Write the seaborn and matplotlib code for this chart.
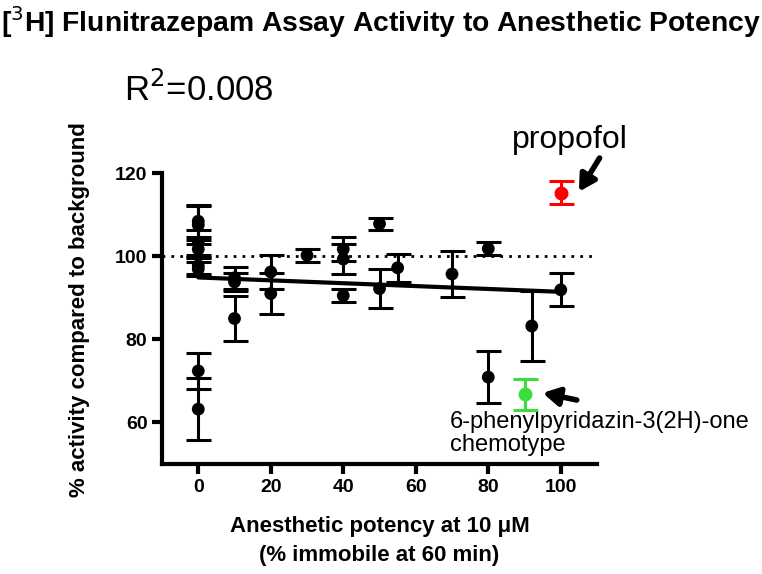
import numpy as np
import pandas as pd
import seaborn as sns
import matplotlib.pyplot as plt

# black compounds: potency (% immobile), activity (%), error (SEM)
potency = [0, 0, 0, 0, 0, 0, 0, 0, 10, 10, 10, 20, 20, 30, 40, 40, 40, 50, 50, 55, 70, 80, 80, 92, 100]
activity = [108.4, 107.5, 103.3, 101.7, 97.7, 96.9, 72.4, 63.2, 94.8, 93.8, 85.0, 96.2, 91.0, 100.2,
            101.7, 99.3, 90.5, 107.8, 92.2, 97.2, 95.7, 101.8, 70.9, 83.2, 91.9]
error = [3.8, 4.5, 3.0, 2.2, 2.0, 1.6, 4.3, 7.5, 2.6, 2.2, 5.5, 4.0, 5.0, 1.5,
         2.8, 3.7, 1.5, 1.4, 4.6, 3.3, 5.6, 1.6, 6.3, 8.3, 4.0]

# highlighted compounds (potency, activity, error)
propofol = (100, 115.3, 2.8)
chemotype = (90, 66.8, 3.7)

df = pd.DataFrame({"potency": potency, "activity": activity, "error": error})

sns.set_theme(style="ticks")
plt.rcParams["font.family"] = ["Liberation Sans", "DejaVu Sans"]
plt.rcParams["text.color"] = "black"
plt.rcParams["axes.labelcolor"] = "black"

fig = plt.figure(figsize=(7.62, 5.74), dpi=100)
ax = fig.add_axes([0.2126, 0.1916, 0.5709, 0.507])

# background level
ax.axhline(100, color="black", linestyle=(0, (1, 2.2)), linewidth=2, zorder=1)

# linear fit through the black compounds
sns.regplot(data=df, x="potency", y="activity", scatter=False, ci=None, ax=ax,
            line_kws={"color": "black", "linewidth": 3, "zorder": 2})

ax.errorbar(df["potency"], df["activity"], yerr=df["error"], fmt="none", ecolor="black",
            elinewidth=2.2, capsize=9, capthick=2.2, zorder=3)
sns.scatterplot(data=df, x="potency", y="activity", color="black", s=85, edgecolor="none",
                ax=ax, zorder=4)

for (px, py, pe), col in [(propofol, "#ff0000"), (chemotype, "#3ddc3d")]:
    ax.errorbar([px], [py], yerr=[pe], fmt="o", color=col, markersize=9, elinewidth=2.2,
                capsize=9, capthick=2.2, zorder=5, clip_on=False)

ax.set_xlim(-10, 110)
ax.set_ylim(50, 120)
ax.set_xticks([0, 20, 40, 60, 80, 100])
ax.set_yticks([60, 80, 100, 120])
for s in ["top", "right"]:
    ax.spines[s].set_visible(False)
for s in ["left", "bottom"]:
    ax.spines[s].set_linewidth(3)
    ax.spines[s].set_color("black")
ax.tick_params(width=3, length=7, labelsize=14, colors="black")
for lab in ax.get_xticklabels() + ax.get_yticklabels():
    lab.set_fontweight("bold")

ax.set_xlabel("Anesthetic potency at 10 μM\n(% immobile at 60 min)", fontsize=16,
              fontweight="bold", labelpad=15, linespacing=1.45)
ax.set_ylabel("% activity compared to background", fontsize=16, fontweight="bold", labelpad=20)
ax.yaxis.set_label_coords(-0.165, 0.53)

fig.text(0.5, 0.962, "[$^{3}$H] Flunitrazepam Assay Activity to Anesthetic Potency",
         ha="center", va="center", fontsize=20.3, fontweight="bold")
fig.text(0.163, 0.843, "R$^{2}$=0.008", ha="left", va="center", fontsize=25)

arrow = dict(arrowstyle="-|>,head_width=0.45,head_length=0.8", color="black",
             lw=4, shrinkA=0, shrinkB=0)
ax.text(86.5, 126, "propofol", fontsize=23, ha="left", va="baseline")
ax.annotate("", xy=(105, 115.5), xytext=(110.7, 123.6), annotation_clip=False, arrowprops=arrow)
ax.annotate("", xy=(95, 67.1), xytext=(104.4, 65.4), annotation_clip=False, arrowprops=arrow)
ax.text(69.5, 62.8, "6-phenylpyridazin-3(2H)-one\nchemotype", fontsize=17, ha="left",
        va="top", linespacing=1.05)

fig.savefig("out.png", dpi=100)
